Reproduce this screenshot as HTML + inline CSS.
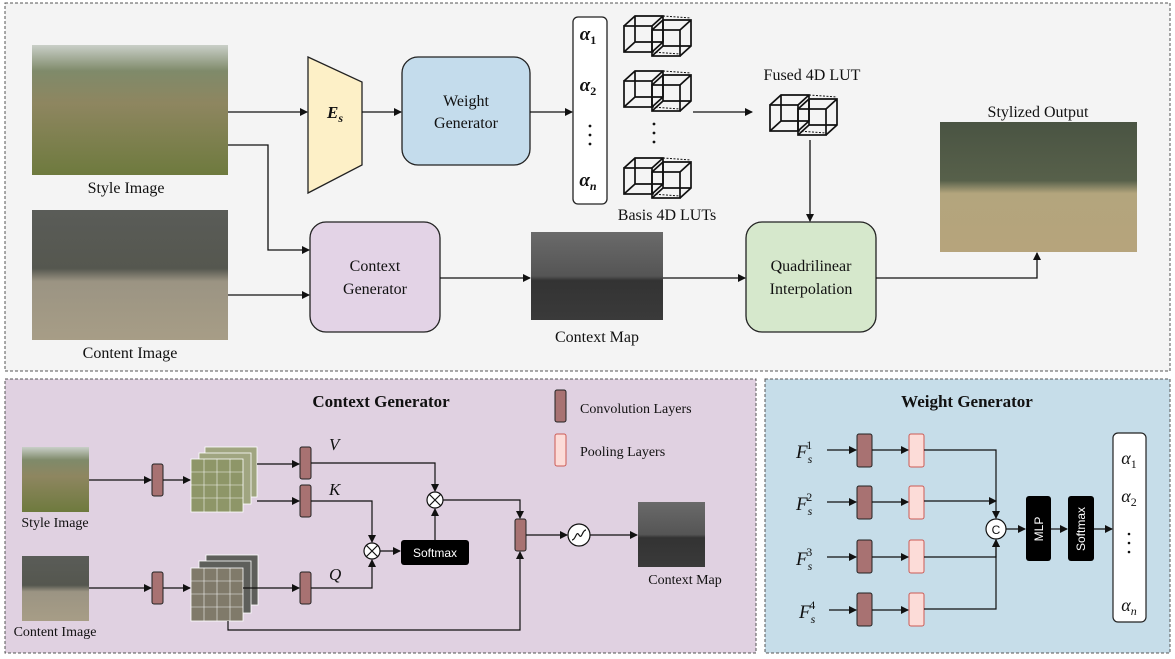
<!DOCTYPE html>
<html><head><meta charset="utf-8"><style>
html,body{margin:0;padding:0;background:#fff}
svg{display:block}
text{font-family:"Liberation Serif",serif;fill:#111}
.s{font-family:"Liberation Sans",sans-serif}
</style></head><body>
<svg width="1175" height="659" viewBox="0 0 1175 659" xmlns="http://www.w3.org/2000/svg">
<defs>
<marker id="a" markerWidth="8" markerHeight="8" refX="7" refY="4" orient="auto" markerUnits="userSpaceOnUse"><path d="M0,0L8,4L0,8z" fill="#111"/></marker>
<linearGradient id="sty" x1="0" y1="0" x2="0" y2="1"><stop offset="0" stop-color="#c9cfc8"/><stop offset="0.2" stop-color="#7f8a6a"/><stop offset="0.45" stop-color="#8e8660"/><stop offset="1" stop-color="#6e7a3e"/></linearGradient>
<linearGradient id="con" x1="0" y1="0" x2="0" y2="1"><stop offset="0" stop-color="#5a5c58"/><stop offset="0.45" stop-color="#55574f"/><stop offset="0.55" stop-color="#9b9483"/><stop offset="1" stop-color="#a79d86"/></linearGradient>
<linearGradient id="out" x1="0" y1="0" x2="0" y2="1"><stop offset="0" stop-color="#4a5443"/><stop offset="0.45" stop-color="#57604a"/><stop offset="0.55" stop-color="#b3a57d"/><stop offset="1" stop-color="#b6a47c"/></linearGradient>
<linearGradient id="cm" x1="0" y1="0" x2="0" y2="1"><stop offset="0" stop-color="#6a6a6a"/><stop offset="0.5" stop-color="#555"/><stop offset="0.55" stop-color="#333"/><stop offset="1" stop-color="#3a3a3a"/></linearGradient>
<g id="cube" fill="none" stroke="#111" stroke-width="1.7">
<rect x="0" y="10" width="28" height="26"/><path d="M0,10L11,0H39V26L28,36M28,10L39,0M11,0V26H39M0,36L11,26"/><path d="M28,36L56,38M39,0L67,2" stroke-dasharray="2,1.5" stroke-width="1"/>
<rect x="28" y="14" width="28" height="26"/><path d="M28,14L39,4H67V30L56,40M56,14L67,4M39,4V30H67M28,40L39,30"/>
</g>
</defs>
<rect x="5" y="3" width="1165" height="368" fill="#f4f4f4" stroke="#555" stroke-dasharray="3,2"/>
<rect x="5" y="379" width="751" height="274" fill="#e0d1e1" stroke="#555" stroke-dasharray="3,2"/>
<rect x="765" y="379" width="405" height="274" fill="#c6dde9" stroke="#555" stroke-dasharray="3,2"/>

<rect x="32" y="45" width="196" height="130" fill="url(#sty)"/>
<text x="126" y="193" font-size="16" text-anchor="middle">Style Image</text>
<rect x="32" y="210" width="196" height="130" fill="url(#con)"/>
<text x="130" y="358" font-size="16" text-anchor="middle">Content Image</text>
<rect x="940" y="122" width="197" height="130" fill="url(#out)"/>
<text x="1038" y="117" font-size="16" text-anchor="middle">Stylized Output</text>
<rect x="531" y="232" width="132" height="88" fill="url(#cm)"/>
<text x="597" y="342" font-size="16" text-anchor="middle">Context Map</text>

<path d="M308,57L362,82V165L308,193Z" fill="#fdf0c7" stroke="#222" stroke-width="1.3"/>
<text x="327" y="118" font-size="17" font-style="italic" font-weight="bold">E<tspan font-size="12" dy="4">s</tspan></text>
<rect x="402" y="57" width="128" height="108" rx="16" fill="#c4dcec" stroke="#222" stroke-width="1.3"/>
<text x="466" y="106" font-size="16" text-anchor="middle">Weight</text>
<text x="466" y="128" font-size="16" text-anchor="middle">Generator</text>
<rect x="573" y="17" width="34" height="187" rx="5" fill="#fff" stroke="#222" stroke-width="1.3"/>
<g font-size="19" font-style="italic" font-weight="bold" text-anchor="middle">
<text x="588" y="40">α<tspan font-size="12" dy="4" font-style="normal">1</tspan></text>
<text x="588" y="91">α<tspan font-size="12" dy="4" font-style="normal">2</tspan></text>
<text x="588" y="186">α<tspan font-size="12" dy="4">n</tspan></text>
</g>
<g fill="#111"><circle cx="590" cy="126" r="1.4"/><circle cx="590" cy="135" r="1.4"/><circle cx="590" cy="144" r="1.4"/>
<circle cx="654" cy="124" r="1.4"/><circle cx="654" cy="133" r="1.4"/><circle cx="654" cy="142" r="1.4"/></g>
<use href="#cube" x="624" y="16"/>
<use href="#cube" x="624" y="71"/>
<use href="#cube" x="624" y="158"/>
<use href="#cube" x="770" y="95"/>
<text x="667" y="220" font-size="16" text-anchor="middle">Basis 4D LUTs</text>
<text x="812" y="80" font-size="16" text-anchor="middle">Fused 4D LUT</text>
<rect x="310" y="222" width="130" height="110" rx="16" fill="#e3d3e6" stroke="#222" stroke-width="1.3"/>
<text x="375" y="271" font-size="16" text-anchor="middle">Context</text>
<text x="375" y="294" font-size="16" text-anchor="middle">Generator</text>
<rect x="746" y="222" width="130" height="110" rx="16" fill="#d6e8cc" stroke="#222" stroke-width="1.3"/>
<text x="811" y="271" font-size="16" text-anchor="middle">Quadrilinear</text>
<text x="811" y="294" font-size="16" text-anchor="middle">Interpolation</text>

<g stroke="#111" stroke-width="1.3" fill="none" marker-end="url(#a)">
<path d="M228,112H307"/><path d="M228,145H268V250H309"/><path d="M228,295H309"/>
<path d="M362,112H401"/><path d="M530,112H572"/><path d="M693,112H752"/>
<path d="M810,140V221"/><path d="M440,278H530"/><path d="M663,278H745"/>
<path d="M876,278H1037V253"/>
</g>

<text x="381" y="407" font-size="17" font-weight="bold" text-anchor="middle">Context Generator</text>
<rect x="555" y="390" width="11" height="32" rx="2" fill="#a87272" stroke="#222"/>
<text x="580" y="413" font-size="14">Convolution Layers</text>
<rect x="555" y="434" width="11" height="32" rx="2" fill="#fcdcd8" stroke="#cc5a55"/>
<text x="580" y="456" font-size="14">Pooling Layers</text>
<rect x="22" y="447" width="67" height="65" fill="url(#sty)"/>
<text x="55" y="527" font-size="14" text-anchor="middle">Style Image</text>
<rect x="22" y="556" width="67" height="65" fill="url(#con)"/>
<text x="55" y="636" font-size="14" text-anchor="middle">Content Image</text>
<rect x="152" y="464" width="11" height="32" rx="2" fill="#a87272" stroke="#222"/>
<rect x="152" y="572" width="11" height="32" rx="2" fill="#a87272" stroke="#222"/>
<g stroke="#fff" stroke-width="0.8" fill="#a0a580">
<rect x="205" y="447" width="52" height="50"/><rect x="199" y="453" width="52" height="51"/><rect x="191" y="459" width="52" height="53" fill="#8e9668"/>
</g>
<g stroke="#fff" stroke-width="0.6" fill="none" opacity="0.9">
<path d="M191,472H243M191,485H243M191,498H243M204,459V512M217,459V512M230,459V512"/>
</g>
<g stroke="#fff" stroke-width="0.8" fill="#5e5f5b">
<rect x="206" y="555" width="52" height="50"/><rect x="199" y="561" width="52" height="52"/><rect x="191" y="568" width="52" height="53" fill="#807a6a"/>
</g>
<g stroke="#fff" stroke-width="0.6" fill="none" opacity="0.9">
<path d="M191,581H243M191,594H243M191,607H243M204,568V621M217,568V621M230,568V621"/>
</g>
<rect x="300" y="447" width="11" height="32" rx="2" fill="#a87272" stroke="#222"/>
<rect x="300" y="485" width="11" height="32" rx="2" fill="#a87272" stroke="#222"/>
<rect x="300" y="572" width="11" height="32" rx="2" fill="#a87272" stroke="#222"/>
<rect x="515" y="519" width="11" height="32" rx="2" fill="#a87272" stroke="#222"/>
<g font-size="17" font-style="italic"><text x="329" y="450">V</text><text x="329" y="495">K</text><text x="329" y="580">Q</text></g>
<rect x="401" y="540" width="68" height="25" rx="3" fill="#000"/>
<text x="435" y="557" class="s" font-size="12" text-anchor="middle" style="fill:#fff">Softmax</text>
<rect x="638" y="502" width="67" height="65" fill="url(#cm)"/>
<text x="685" y="584" font-size="14" text-anchor="middle">Context Map</text>
<g stroke="#111" stroke-width="1.2" fill="none">
<circle cx="435" cy="500" r="8" fill="#fff"/><path d="M429,494L441,506M441,494L429,506"/>
<circle cx="372" cy="551" r="8" fill="#fff"/><path d="M366,545L378,557M378,545L366,557"/>
<circle cx="579" cy="535" r="11" fill="#fff"/><path d="M572,540C576,540 576,530 579,535C582,540 582,530 586,530"/>
</g>
<g stroke="#111" stroke-width="1.2" fill="none" marker-end="url(#a)">
<path d="M89,480H151"/><path d="M163,480H190"/><path d="M89,588H151"/><path d="M163,588H190"/>
<path d="M257,464H299"/><path d="M257,501H299"/><path d="M243,588H299"/>
<path d="M311,463H435V491"/><path d="M311,501H372V542"/><path d="M311,588H372V560"/>
<path d="M380,551H400"/><path d="M435,540V509"/><path d="M443,500H520V518"/>
<path d="M228,621V630H520V552"/><path d="M526,535H567"/><path d="M590,535H637"/>
</g>

<text x="967" y="407" font-size="17" font-weight="bold" text-anchor="middle">Weight Generator</text>
<g font-size="19" font-style="italic">
<text x="796" y="458">F<tspan font-size="12" dy="5">s</tspan><tspan font-size="12" dy="-14" dx="-6" font-style="normal">1</tspan></text>
<text x="796" y="510">F<tspan font-size="12" dy="5">s</tspan><tspan font-size="12" dy="-14" dx="-6" font-style="normal">2</tspan></text>
<text x="796" y="565">F<tspan font-size="12" dy="5">s</tspan><tspan font-size="12" dy="-14" dx="-6" font-style="normal">3</tspan></text>
<text x="799" y="618">F<tspan font-size="12" dy="5">s</tspan><tspan font-size="12" dy="-14" dx="-6" font-style="normal">4</tspan></text>
</g>
<g>
<rect x="857" y="434" width="15" height="33" rx="2" fill="#a87272" stroke="#222"/>
<rect x="857" y="486" width="15" height="33" rx="2" fill="#a87272" stroke="#222"/>
<rect x="857" y="540" width="15" height="33" rx="2" fill="#a87272" stroke="#222"/>
<rect x="857" y="593" width="15" height="33" rx="2" fill="#a87272" stroke="#222"/>
<rect x="909" y="434" width="15" height="33" rx="2" fill="#fcdcd8" stroke="#cc5a55"/>
<rect x="909" y="486" width="15" height="33" rx="2" fill="#fcdcd8" stroke="#cc5a55"/>
<rect x="909" y="540" width="15" height="33" rx="2" fill="#fcdcd8" stroke="#cc5a55"/>
<rect x="909" y="593" width="15" height="33" rx="2" fill="#fcdcd8" stroke="#cc5a55"/>
</g>
<g stroke="#111" stroke-width="1.2" fill="none" marker-end="url(#a)">
<path d="M827,450H856"/><path d="M827,502H856"/><path d="M827,557H856"/><path d="M829,610H856"/>
<path d="M872,450H908"/><path d="M872,502H908"/><path d="M872,557H908"/><path d="M872,610H908"/>
<path d="M924,450H996V518"/><path d="M924,501H996"/><path d="M924,557H996V540"/><path d="M924,609H996V540"/>
<path d="M1006,529H1025"/><path d="M1051,529H1067"/><path d="M1094,529H1112"/>
</g>
<circle cx="996" cy="529" r="10" fill="#fff" stroke="#111" stroke-width="1.2"/>
<text x="996" y="534" class="s" font-size="12" text-anchor="middle">C</text>
<rect x="1026" y="496" width="25" height="65" rx="3" fill="#000"/>
<text class="s" font-size="12" text-anchor="middle" transform="translate(1043,529) rotate(-90)" style="fill:#fff">MLP</text>
<rect x="1068" y="496" width="26" height="65" rx="3" fill="#000"/>
<text class="s" font-size="12" text-anchor="middle" transform="translate(1085,529) rotate(-90)" style="fill:#fff">Softmax</text>
<rect x="1113" y="433" width="33" height="189" rx="5" fill="#fff" stroke="#222" stroke-width="1.2"/>
<g font-size="18" font-style="italic" text-anchor="middle">
<text x="1129" y="464">α<tspan font-size="12" dy="4" font-style="normal">1</tspan></text>
<text x="1129" y="502">α<tspan font-size="12" dy="4" font-style="normal">2</tspan></text>
<text x="1129" y="611">α<tspan font-size="12" dy="4">n</tspan></text>
</g>
<g fill="#111"><circle cx="1129" cy="534" r="1.3"/><circle cx="1129" cy="543" r="1.3"/><circle cx="1129" cy="552" r="1.3"/></g>
</svg>
</body></html>
